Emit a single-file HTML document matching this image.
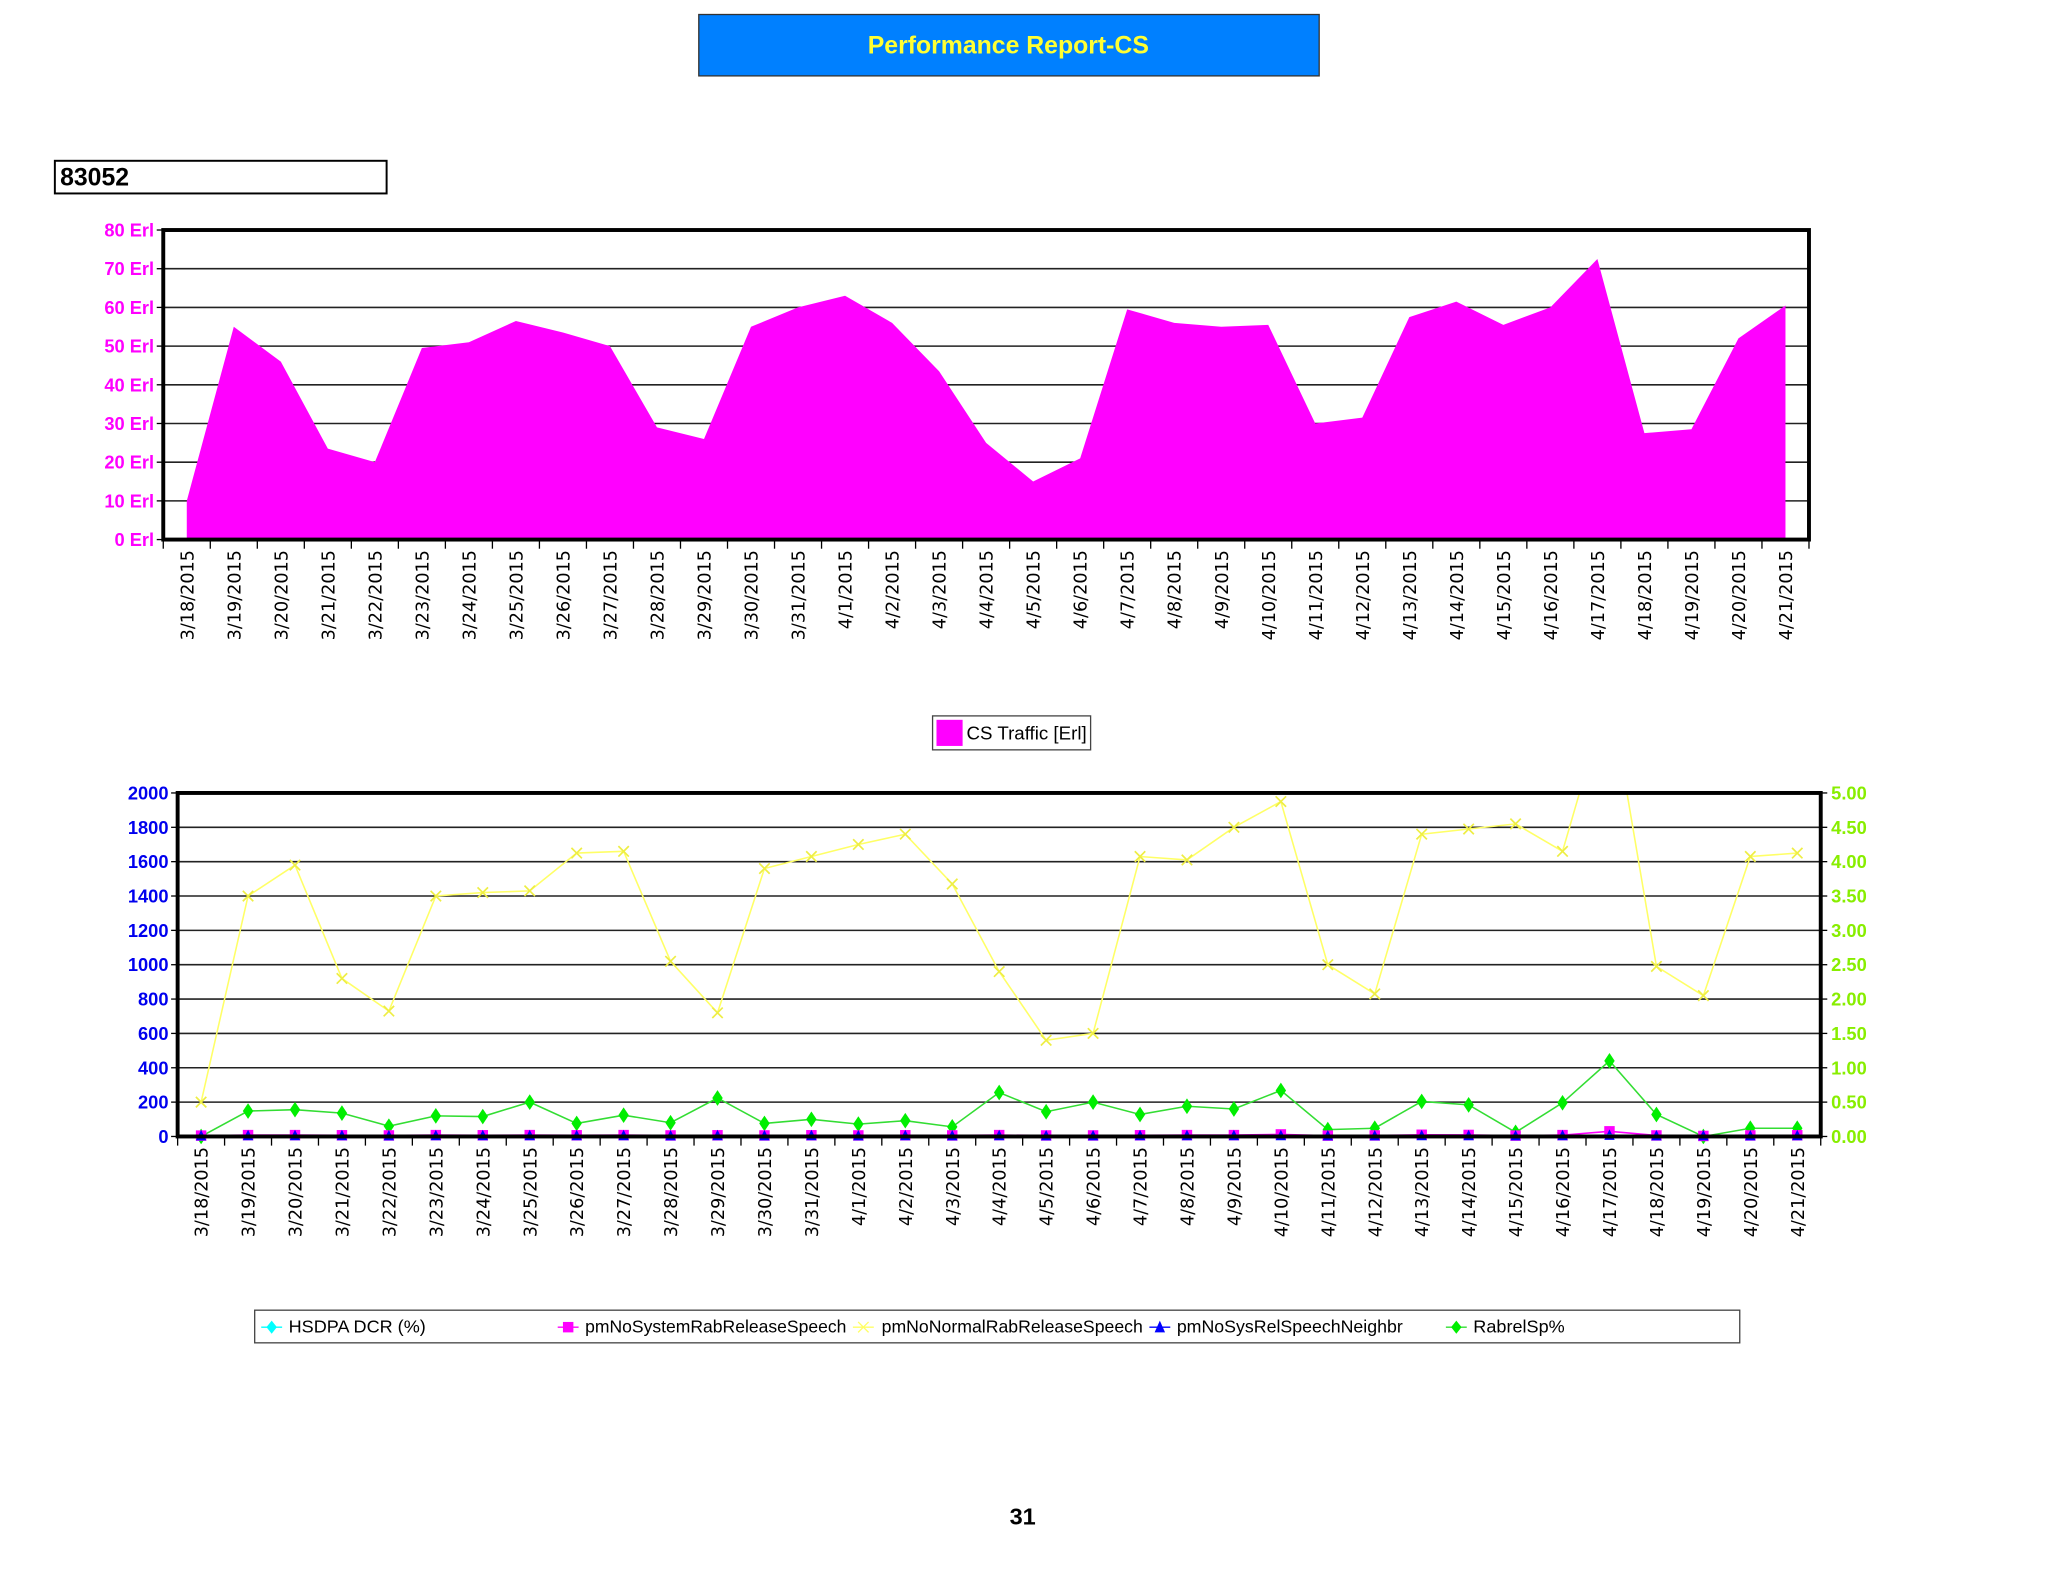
<!DOCTYPE html>
<html><head><meta charset="utf-8"><style>
html,body{margin:0;padding:0;background:#fff;}
svg{display:block;font-family:"Liberation Sans",sans-serif;}
</style></head><body>
<svg id="page" width="2048" height="1582" viewBox="0 0 1568 1211" xmlns="http://www.w3.org/2000/svg">
<rect x="535" y="11" width="475" height="47" fill="#0080ff" stroke="#333" stroke-width="1"/>
<text x="772" y="41" text-anchor="middle" font-size="19" font-weight="bold" fill="#ffff33">Performance Report-CS</text>
<rect x="42" y="123" width="254" height="25" fill="#fff" stroke="#000" stroke-width="1.5"/>
<text x="46" y="142" font-size="19" font-weight="bold" fill="#000">83052</text>
<g id="c1"></g>
<rect x="714" y="548" width="121" height="26" fill="#fff" stroke="#444"/>
<rect x="717" y="551" width="20" height="20" fill="#ff00ff"/>
<text x="740" y="566" font-size="14" textLength="92" lengthAdjust="spacingAndGlyphs" fill="#000">CS Traffic [Erl]</text>
<g id="c2"></g>
<g>
<rect x="195" y="1003" width="1137" height="25" fill="#fff" stroke="#444"/>
<line x1="200" y1="1016" x2="216" y2="1016" stroke="#00ffff"/><path d="M208 1011 L212 1016 L208 1021 L204 1016Z" fill="#00ffff"/>
<text x="221" y="1020" font-size="13.5" textLength="105" lengthAdjust="spacingAndGlyphs">HSDPA DCR (%)</text>
<line x1="427" y1="1016" x2="443" y2="1016" stroke="#ff00ff"/><rect x="431" y="1012" width="8" height="8" fill="#ff00ff"/>
<text x="448" y="1020" font-size="13.5" textLength="200" lengthAdjust="spacingAndGlyphs">pmNoSystemRabReleaseSpeech</text>
<line x1="653" y1="1016" x2="669" y2="1016" stroke="#ffff66"/><path d="M657 1012 L665 1020 M665 1012 L657 1020" stroke="#ffff66"/>
<text x="675" y="1020" font-size="13.5" textLength="200" lengthAdjust="spacingAndGlyphs">pmNoNormalRabReleaseSpeech</text>
<line x1="880" y1="1016" x2="896" y2="1016" stroke="#0000ff"/><path d="M888 1011 L892 1020 L884 1020Z" fill="#0000ff"/>
<text x="901" y="1020" font-size="13.5" textLength="173" lengthAdjust="spacingAndGlyphs">pmNoSysRelSpeechNeighbr</text>
<line x1="1107" y1="1016" x2="1123" y2="1016" stroke="#33dd33"/><path d="M1115 1011 L1119 1016 L1115 1021 L1111 1016Z" fill="#00ee00"/>
<text x="1128" y="1020" font-size="13.5" textLength="70" lengthAdjust="spacingAndGlyphs">RabrelSp%</text>
</g>
<text x="783" y="1167" text-anchor="middle" font-size="18" font-weight="bold">31</text>
</svg>
<script>
const categories = ["3/18/2015","3/19/2015","3/20/2015","3/21/2015","3/22/2015","3/23/2015","3/24/2015","3/25/2015","3/26/2015","3/27/2015","3/28/2015","3/29/2015","3/30/2015","3/31/2015","4/1/2015","4/2/2015","4/3/2015","4/4/2015","4/5/2015","4/6/2015","4/7/2015","4/8/2015","4/9/2015","4/10/2015","4/11/2015","4/12/2015","4/13/2015","4/14/2015","4/15/2015","4/16/2015","4/17/2015","4/18/2015","4/19/2015","4/20/2015","4/21/2015"];
const csTraffic = [10,55,46,23.5,20,49.5,51,56.5,53.5,50,29,26,55,60,63,56,43.5,25,15,21,59.5,56,55,55.5,30,31.5,57.5,61.5,55.5,60,72.5,27.5,28.5,52,60.5];
const trafficTicks = [0,10,20,30,40,50,60,70,80];
const normalRel = [200,1400,1580,920,730,1400,1420,1430,1650,1660,1020,720,1560,1630,1700,1760,1470,960,560,600,1630,1610,1800,1950,1000,830,1760,1790,1820,1660,2600,990,820,1630,1650];
const systemRel = [5,8,8,7,6,8,7,8,7,8,6,7,6,7,6,7,6,8,6,6,7,8,8,12,5,6,10,9,5,8,30,6,3,6,7];
const neighbrRel = [0,1,1,1,0,1,1,1,1,1,0,1,0,1,0,1,0,1,0,0,1,1,1,1,0,0,1,1,0,1,3,0,0,0,1];
const rabrelSp = [0,0.37,0.39,0.34,0.15,0.30,0.29,0.50,0.19,0.31,0.20,0.56,0.19,0.25,0.18,0.23,0.14,0.64,0.36,0.50,0.32,0.44,0.40,0.67,0.10,0.12,0.51,0.46,0.06,0.49,1.10,0.32,0.00,0.12,0.12];
const hsdpaDcr = [0,0,0,0,0,0,0,0,0,0,0,0,0,0,0,0,0,0,0,0,0,0,0,0,0,0,0,0,0,0,0.02,0,0,0,0];
const leftTicks = [0,200,400,600,800,1000,1200,1400,1600,1800,2000];
const rightTicks = [0,0.5,1,1.5,2,2.5,3,3.5,4,4.5,5];

const NS="http://www.w3.org/2000/svg";
function mk(parent,tag,attrs,txt){const e=document.createElementNS(NS,tag);for(const k in attrs)e.setAttribute(k,attrs[k]);if(txt!==undefined)e.textContent=txt;parent.appendChild(e);return e;}
const LBLFONT='"DejaVu Sans", sans-serif';

// Chart 1
(function(){
  const g=document.getElementById('c1');
  const L=125,R=1385,T=176,B=413,n=categories.length,step=(R-L)/n;
  const x=i=>L+step*(i+0.5), y=v=>B-(v/80)*(B-T);
  trafficTicks.forEach(t=>{
    const ln=mk(g,'line',{x1:L,x2:R,y1:y(t),y2:y(t),stroke:'#222','stroke-width':1.2});
    
    
    mk(g,'line',{x1:L-5,x2:L,y1:y(t),y2:y(t),stroke:'#000'});
    const tx=mk(g,'text',{x:L-7,y:y(t)+5,'text-anchor':'end','font-size':14,'font-weight':'bold',fill:'#ff00ff'},t+' Erl');
    
    
  });
  let d='M'+x(0)+' '+B;
  csTraffic.forEach((v,i)=>{d+=' L'+x(i)+' '+y(v);});
  d+=' L'+x(n-1)+' '+B+' Z';
  const area=mk(g,'path',{d:d,fill:'#ff00ff'});
  
  
  const fr=mk(g,'rect',{x:L,y:T,width:R-L,height:B-T,fill:'none',stroke:'#000','stroke-width':3});
  
  
  for(let i=0;i<=n;i++) mk(g,'line',{x1:L+step*i,x2:L+step*i,y1:B,y2:B+7,stroke:'#000'});
  categories.forEach((c,i)=>{
    const tx=mk(g,'text',{x:0,y:0,transform:'translate('+(x(i)+5)+','+(B+8)+') rotate(-90)','text-anchor':'end','font-size':13.5,'font-family':LBLFONT,fill:'#000'},c);
    
    
  });
})();

// Chart 2
(function(){
  const g=document.getElementById('c2');
  const L=136,R=1394,T=607,B=870,n=categories.length,step=(R-L)/n;
  const x=i=>L+step*(i+0.5), yl=v=>B-(v/2000)*(B-T), yr=v=>B-(v/5)*(B-T);
  leftTicks.forEach((t,k)=>{
    const ln=mk(g,'line',{x1:L,x2:R,y1:yl(t),y2:yl(t),stroke:'#222','stroke-width':1.2});
    
    
    mk(g,'line',{x1:L-5,x2:L,y1:yl(t),y2:yl(t),stroke:'#000'});
    const tx=mk(g,'text',{x:L-7,y:yl(t)+5,'text-anchor':'end','font-size':14,'font-weight':'bold',fill:'#0000ee'},t);
    
    
  });
  rightTicks.forEach(t=>{
    mk(g,'line',{x1:R,x2:R+5,y1:yr(t),y2:yr(t),stroke:'#000'});
    const tx=mk(g,'text',{x:R+8,y:yr(t)+5,'font-size':14,'font-weight':'bold',fill:'#88ee00'},t.toFixed(2));
    
    
  });
  mk(g,'clipPath',{id:'clip2'}).appendChild(document.createElementNS(NS,'rect'));
  const cr=g.querySelector('#clip2 rect');cr.setAttribute('x',L);cr.setAttribute('y',T);cr.setAttribute('width',R-L);cr.setAttribute('height',B-T+6);
  const s=mk(g,'g',{'clip-path':'url(#clip2)'});
  function line(vals,yf,color,name){
    const p=mk(s,'polyline',{points:vals.map((v,i)=>x(i)+','+yf(v)).join(' '),fill:'none',stroke:color,'stroke-width':1.2});
    
    
  }
  line(normalRel,yl,'#ffff66','normal-rab-release-line');
  normalRel.forEach((v,i)=>{const X=x(i),Y=yl(v);
    const m=mk(s,'path',{d:`M${X-4} ${Y-4} L${X+4} ${Y+4} M${X+4} ${Y-4} L${X-4} ${Y+4}`,stroke:'#eeee44','stroke-width':1.3});
    
    });
  line(rabrelSp,yr,'#33dd33','rabrelsp-line');
  rabrelSp.forEach((v,i)=>{const X=x(i),Y=yr(v);
    const m=mk(s,'path',{d:`M${X} ${Y-6} L${X+4} ${Y} L${X} ${Y+6} L${X-4} ${Y}Z`,fill:'#00ee00'});
    
    });
  line(systemRel,yl,'#ff00ff','system-rab-release-line');
  systemRel.forEach((v,i)=>{const X=x(i),Y=yl(v);
    const m=mk(s,'rect',{x:X-4,y:Y-4,width:8,height:8,fill:'#ff00ff'});
    
    });
  line(neighbrRel,yl,'#0000ff','sys-rel-neighbr-line');
  neighbrRel.forEach((v,i)=>{const X=x(i),Y=yl(v);
    const m=mk(s,'path',{d:`M${X} ${Y-5} L${X+4} ${Y+3} L${X-4} ${Y+3}Z`,fill:'#0000ff'});
    
    });
  line(hsdpaDcr,yr,'#00ffff','hsdpa-dcr-line');
  const fr=mk(g,'rect',{x:L,y:T,width:R-L,height:B-T,fill:'none',stroke:'#000','stroke-width':3});
  
  
  for(let i=0;i<=n;i++) mk(g,'line',{x1:L+step*i,x2:L+step*i,y1:B,y2:B+7,stroke:'#000'});
  categories.forEach((c,i)=>{
    const tx=mk(g,'text',{x:0,y:0,transform:'translate('+(x(i)+5)+','+(B+8)+') rotate(-90)','text-anchor':'end','font-size':13.5,'font-family':LBLFONT,fill:'#000'},c);
    
    
  });
})();
</script>
</body></html>
